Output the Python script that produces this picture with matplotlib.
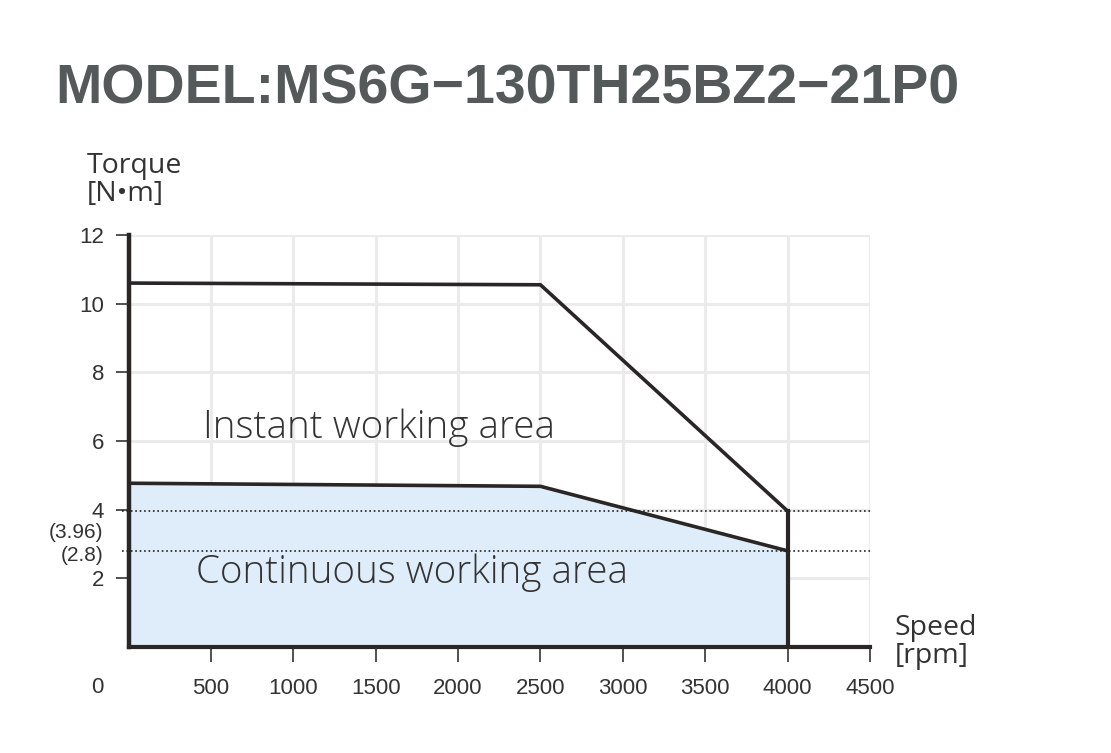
import matplotlib.pyplot as plt
import matplotlib.transforms as mtransforms

# curve data
speed_peak = [0, 2500, 4000]
torque_peak = [10.6, 10.55, 3.96]
speed_rated = [0, 2500, 4000]
torque_rated = [4.77, 4.68, 2.8]
marked_torques = [3.96, 2.8]
marked_labels = ['(3.96)', '(2.8)']
x_ticks = [500, 1000, 1500, 2000, 2500, 3000, 3500, 4000, 4500]
y_ticks = [2, 4, 6, 8, 10, 12]

dark = '#2b2626'
txt = '#333333'

fig = plt.figure(figsize=(11.11, 7.53), dpi=100)
ax = fig.add_axes([128.5 / 1111, 1 - 647 / 753, 741.5 / 1111, 412 / 753])

ax.set_xlim(0, 4500)
ax.set_ylim(0, 12)
ax.set_xticks(x_ticks)
ax.set_yticks(y_ticks)
ax.grid(color='#ebebeb', lw=2.2, zorder=0)
ax.set_axisbelow(True)

for s in ['top', 'right']:
    ax.spines[s].set_visible(False)
ax.spines['left'].set_linewidth(3.2)
ax.spines['bottom'].set_linewidth(3.0)
ax.spines['left'].set_color(dark)
ax.spines['bottom'].set_color(dark)

ax.tick_params(axis='x', length=11, width=1.2, color=txt, pad=11,
               labelsize=16, labelcolor=txt)
ax.tick_params(axis='y', length=9.5, width=1.2, color=txt, pad=8,
               labelsize=16, labelcolor=txt)
for lab in ax.get_xticklabels() + ax.get_yticklabels():
    lab.set_fontfamily('Liberation Sans')

# continuous area
ax.fill_between(speed_rated, torque_rated, 0, color='#deedf9', zorder=1, lw=0)
ax.plot(speed_rated, torque_rated, color=dark, lw=2.6, zorder=3)
ax.plot(speed_peak, torque_peak, color=dark, lw=2.6, zorder=3)
ax.plot([speed_peak[-1], speed_peak[-1]], [torque_peak[-1], 0], color=dark,
        lw=3.0, zorder=3)

# dotted reference lines
for v in marked_torques:
    ax.plot([-40, 4510], [v, v], color='#222222', ls=':', lw=1.2, zorder=4,
            clip_on=False)

trans = mtransforms.blended_transform_factory(ax.transAxes, ax.transData)
ax.text(-0.034, 3.33, marked_labels[0], transform=trans, ha='right', va='center',
        fontsize=15, color=txt, family='Liberation Sans')
ax.text(-0.034, 2.66, marked_labels[1], transform=trans, ha='right', va='center',
        fontsize=15, color=txt, family='Liberation Sans')

trans2 = mtransforms.blended_transform_factory(ax.transData, ax.transAxes)
ax.text(-190, -0.098, '0', transform=trans2, ha='center', va='center',
        fontsize=16, color=txt, family='Liberation Sans')

ax.text(450, 6.4, 'Instant working area', fontsize=27.8, color=txt,
        family='Open Sans', weight='light', va='center')
ax.text(410, 2.15, 'Continuous working area', fontsize=27.8, color=txt,
        family='Open Sans', weight='light', va='center')

fig.text(87 / 1111, 1 - 152 / 753, 'Torque\n[N•m]', fontsize=20.5, color=txt,
         family='Open Sans', va='top', linespacing=1.0)
fig.text(895 / 1111, 1 - 614 / 753, 'Speed\n[rpm]', fontsize=20.5, color=txt,
         family='Open Sans', va='top', linespacing=1.0)

fig.text(55 / 1111, 1 - 103 / 753, 'MODEL:MS6G\u2212130TH25BZ2\u221221P0',
         fontsize=40, color='#555959', family='Liberation Sans', weight='bold',
         va='baseline')

fig.savefig('out.png', dpi=100)
